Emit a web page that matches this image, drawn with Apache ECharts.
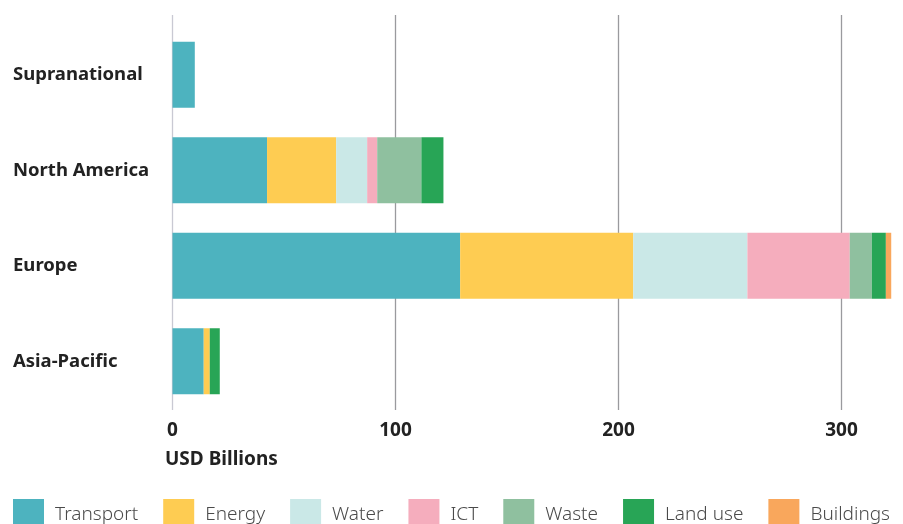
<!DOCTYPE html>
<html>
<head>
<meta charset="utf-8">
<script src="https://cdn.jsdelivr.net/npm/echarts@6/dist/echarts.min.js"></script>
<style>
  html, body { margin: 0; padding: 0; background: #fff; }
  #chart { width: 903px; height: 524px; }
</style>
</head>
<body>
<div id="chart"></div>
<script>
// regions, top to bottom
const regions = ['Supranational', 'North America', 'Europe', 'Asia-Pacific'];
const sectors = ['Transport', 'Energy', 'Water', 'ICT', 'Waste', 'Land use', 'Buildings'];
const colors = ['#4db3bf', '#fecc52', '#cae8e7', '#f5adbd', '#8fc09f', '#28a556', '#f9a75c'];

// USD billions per sector, one value per region
const transport = [10, 42.4, 129, 14];
const energy    = [0, 31, 77.6, 2.7];
const water     = [0, 13.9, 51.2, 0];
const ict       = [0, 4.5, 45.9, 0];
const waste     = [0, 19.8, 9.9, 0];
const landUse   = [0, 9.9, 6.3, 4.5];
const buildings = [0, 0, 2.4, 0];

const xTicks = [0, 100, 200, 300];

const sectorData = [transport, energy, water, ict, waste, landUse, buildings];
const font = '"Noto Sans", sans-serif';

const chart = echarts.init(document.getElementById('chart'));
chart.setOption({
  animation: false,
  textStyle: { fontFamily: font },
  title: {
    text: 'USD Billions',
    left: 160, top: 445,
    textStyle: { fontFamily: font, fontSize: 19, fontWeight: 'bold', color: '#222' }
  },
  legend: {
    left: 8, top: 494,
    icon: 'rect',
    itemWidth: 31, itemHeight: 32,
    itemGap: 25,
    selectedMode: false,
    data: sectors,
    textStyle: { fontFamily: font, fontSize: 19, fontWeight: 300, color: '#4a4a4a', padding: [0, 0, 0, 6] }
  },
  grid: [
    // gridlines + ticks
    { left: 172.5, right: 61.5, top: 15, bottom: 114 },
    // bars
    { left: 172.5, right: 61.5, top: 27, bottom: 115 }
  ],
  xAxis: [
    {
      gridIndex: 0, type: 'value', min: xTicks[0], max: xTicks[xTicks.length - 1], interval: 100,
      axisLine: { show: false }, axisTick: { show: false },
      axisLabel: { margin: 11, fontSize: 19, fontWeight: 'bold', color: '#222', fontFamily: font },
      splitLine: { lineStyle: { color: ['#c9c9d3', '#9a9a9e', '#9a9a9e', '#9a9a9e'], width: 1.3 } }
    },
    {
      gridIndex: 1, type: 'value', min: 0, max: 300, show: false,
      splitLine: { show: false }
    }
  ],
  yAxis: [
    { gridIndex: 0, type: 'category', data: regions, inverse: true, show: false },
    {
      gridIndex: 1, type: 'category', data: regions, inverse: true,
      axisLine: { show: false }, axisTick: { show: false },
      axisLabel: { align: 'left', margin: 159.5, fontSize: 18.5, fontWeight: 'bold', color: '#222', fontFamily: font },
      splitLine: { show: false }
    }
  ],
  series: sectors.map((name, i) => ({
    name: name,
    type: 'bar',
    stack: 'total',
    xAxisIndex: 1, yAxisIndex: 1,
    barWidth: 66,
    clip: false,
    itemStyle: { color: colors[i] },
    emphasis: { disabled: true },
    data: sectorData[i]
  }))
});
</script>
</body>
</html>
